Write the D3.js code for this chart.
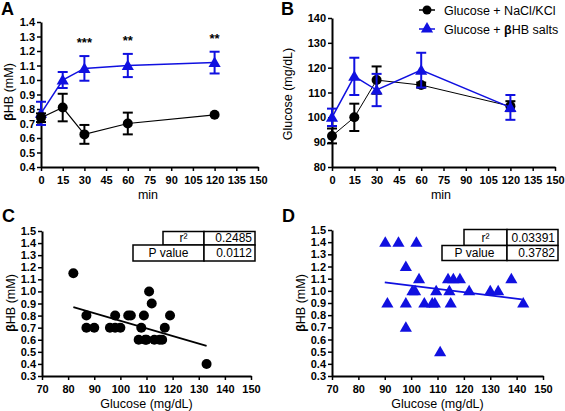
<!DOCTYPE html>
<html><head><meta charset="utf-8">
<script src="https://cdn.jsdelivr.net/npm/d3@7"></script>
<style>body{margin:0;background:#fff}svg{display:block;font-family:"Liberation Sans",Arial,sans-serif}</style>
</head><body><svg id="c" width="565" height="411"></svg>
<script>
// ---- data ----
const times = [0, 15, 30, 60, 120];
const timeTicks = [0,15,30,45,60,75,90,105,120,135,150];
const seriesNames = ["Glucose + NaCl/KCl", "Glucose + βHB salts"];
// Panel A: βHB (mM)
const bhbCtrl = [0.74, 0.81, 0.625, 0.70, 0.76];
const bhbCtrlErr = [0.03, 0.095, 0.065, 0.075, 0.0];
const bhbSalt = [0.77, 1.0, 1.08, 1.10, 1.12];
const bhbSaltErr = [0.08, 0.055, 0.085, 0.08, 0.075];
const sigLabels = ["", "", "***", "**", "**"];
const bhbTicks = [0.4,0.5,0.6,0.7,0.8,0.9,1.0,1.1,1.2,1.3,1.4];
// Panel B: Glucose (mg/dL)
const gluCtrl = [92.5, 100, 115, 113, 104.5];
const gluCtrlErr = [3, 5.5, 5.5, 1, 2];
const gluSalt = [100, 116.5, 111, 119, 104];
const gluSaltErr = [3.5, 7.5, 6.5, 7, 5];
const gluTicks = [80,90,100,110,120,130,140];
// Panel C: correlation, control
const cGlu = [82,87,87,90,96,98,98,100,103,104,108,109,107,109.5,110,111,112,113,115,116,117,119,133];
const cBhb = [1.15,0.8,0.7,0.7,0.7,0.8,0.7,0.7,0.8,0.8,0.7,0.8,0.6,0.6,0.6,1.0,0.9,0.6,0.6,0.6,0.7,0.8,0.4];
const cFitX = [82, 133];
const cFitY = [0.87, 0.55];
const cStats = [["r²", "0.2485"], ["P value", "0.0112"]];
// Panel D: correlation, βHB salts
const dGlu = [90.2,95.2,102,98,103,114,116,118.5,138,100.5,101.5,109.5,114.5,122,130,133,91,98,105,108,109,115,142.5,98,111];
const dBhb = [1.4,1.4,1.4,1.2,1.1,1.1,1.1,1.1,1.1,1.0,1.0,1.0,1.0,1.0,1.0,1.0,0.9,0.9,0.9,0.9,0.9,0.9,0.9,0.7,0.5];
const dFitX = [90, 142];
const dFitY = [1.07, 0.93];
const dStats = [["r²", "0.03391"], ["P value", "0.3782"]];
const corrXTicks = [70,80,90,100,110,120,130,140,150];
const corrYTicks = [0.3,0.4,0.5,0.6,0.7,0.8,0.9,1.0,1.1,1.2,1.3,1.4,1.5];

const BLUE = "#1010e0", BLACK = "#000";
const svg = d3.select("#c");
const tri = d3.symbol().type(d3.symbolTriangle).size(64);

function axes(g, x, y, xt, yt, xfmt, yfmt) {
  const xa = g.append("g").attr("transform", `translate(0,${y.range()[0]})`)
    .call(d3.axisBottom(x).tickValues(xt).tickSize(4).tickSizeOuter(0).tickFormat(xfmt));
  const ya = g.append("g").attr("transform", `translate(${x.range()[0]},0)`)
    .call(d3.axisLeft(y).tickValues(yt).tickSize(4).tickSizeOuter(0).tickFormat(yfmt));
  [xa, ya].forEach(a => {
    a.select(".domain").attr("stroke", "#000").attr("stroke-width", 2);
    a.selectAll(".tick line").attr("stroke", "#000").attr("stroke-width", 1.5);
    a.selectAll(".tick text").attr("fill", "#000").style("font-size", "11px")
      .style("font-weight", "bold").style("font-family", '"Liberation Sans",Arial,sans-serif');
  });
  xa.selectAll(".tick text").attr("dy", "0.9em");
  ya.selectAll(".tick text").attr("x", -6);
}
function label(txt, x, y, size, weight, anchor, rot) {
  const t = svg.append("text").attr("x", x).attr("y", y).attr("font-size", size)
    .attr("font-weight", weight || "normal").attr("text-anchor", anchor || "middle").text(txt);
  if (rot) t.attr("transform", `rotate(${rot},${x},${y})`);
  return t;
}
function timeSeries(g, x, y, vals, errs, color, isTri, lineW) {
  const line = d3.line().x((d, i) => x(times[i])).y(d => y(d));
  g.append("path").datum(vals).attr("d", line).attr("fill", "none").attr("stroke", color).attr("stroke-width", lineW);
  vals.forEach((v, i) => {
    if (errs[i] > 0) {
      const cx = x(times[i]), y1 = y(v + errs[i]), y2 = y(v - errs[i]);
      g.append("line").attr("x1", cx).attr("x2", cx).attr("y1", y1).attr("y2", y2).attr("stroke", color).attr("stroke-width", 2);
      [y1, y2].forEach(yy => g.append("line").attr("x1", cx - 5).attr("x2", cx + 5).attr("y1", yy).attr("y2", yy).attr("stroke", color).attr("stroke-width", 2));
    }
    if (isTri) g.append("path").attr("d", tri).attr("transform", `translate(${x(times[i])},${y(v) + 1})`).attr("fill", color);
    else g.append("circle").attr("cx", x(times[i])).attr("cy", y(v)).attr("r", 5).attr("fill", color);
  });
}
const f1 = d3.format(".1f"), f0 = d3.format("d");

// ---- Panel A ----
{
  const x = d3.scaleLinear().domain([0, 150]).range([41, 258]);
  const y = d3.scaleLinear().domain([0.4, 1.4]).range([167, 22]);
  const g = svg.append("g");
  axes(g, x, y, timeTicks, bhbTicks, f0, f1);
  timeSeries(g, x, y, bhbSalt, bhbSaltErr, BLUE, true, 1.5);
  timeSeries(g, x, y, bhbCtrl, bhbCtrlErr, BLACK, false, 1.2);
  times.forEach((t, i) => {
    if (sigLabels[i]) g.append("text").attr("x", x(t)).attr("y", y(bhbSalt[i] + bhbSaltErr[i]) - 9)
      .attr("text-anchor", "middle").attr("font-size", 13).attr("font-weight", "bold").text(sigLabels[i]);
  });
  label("A", 1, 15, 18, "bold", "start");
  label("min", 148, 199, 12.5);
  const yl = label("", 13, 92, 12.5, "normal", "middle", -90);
  yl.append("tspan").attr("font-weight", "bold").text("β");
  yl.append("tspan").text("HB (mM)");
}
// ---- Panel B ----
{
  const x = d3.scaleLinear().domain([0, 150]).range([332, 555]);
  const y = d3.scaleLinear().domain([80, 140]).range([167, 18]);
  const g = svg.append("g");
  axes(g, x, y, timeTicks, gluTicks, f0, f0);
  timeSeries(g, x, y, gluCtrl, gluCtrlErr, BLACK, false, 1);
  timeSeries(g, x, y, gluSalt, gluSaltErr, BLUE, true, 1.5);
  label("B", 281, 15, 18, "bold", "start");
  label("min", 441, 199, 12.5);
  label("Glucose (mg/dL)", 292, 94, 12.5, "normal", "middle", -90);
  // legend
  const lx = 427, ly = [10, 29];
  g.append("line").attr("x1", lx - 8).attr("x2", lx + 8).attr("y1", ly[0]).attr("y2", ly[0]).attr("stroke", BLACK).attr("stroke-width", 1.5);
  g.append("circle").attr("cx", lx).attr("cy", ly[0]).attr("r", 4.5).attr("fill", BLACK);
  g.append("line").attr("x1", lx - 8).attr("x2", lx + 8).attr("y1", ly[1]).attr("y2", ly[1]).attr("stroke", BLUE).attr("stroke-width", 1.5);
  g.append("path").attr("d", tri).attr("transform", `translate(${lx},${ly[1]})`).attr("fill", BLUE);
  label(seriesNames[0], 444, ly[0] + 4.5, 12.5, "normal", "start");
  const t2 = label("Glucose + ", 444, ly[1] + 4.5, 12.5, "normal", "start");
  t2.append("tspan").attr("font-weight", "bold").text("β");
  t2.append("tspan").text("HB salts");
}
// ---- correlation panels ----
function corr(xr, yr, gx, gy, fx, fy, stats, isTri, color, table, letter, lx) {
  const x = d3.scaleLinear().domain([70, 150]).range(xr);
  const y = d3.scaleLinear().domain([0.3, 1.5]).range(yr);
  const g = svg.append("g");
  axes(g, x, y, corrXTicks, corrYTicks, f0, f1);
  g.append("path").datum(fx.map((v, i) => [v, fy[i]]))
    .attr("d", d3.line().x(d => x(d[0])).y(d => y(d[1])))
    .attr("stroke", color).attr("stroke-width", 1.8).attr("fill", "none");
  gx.forEach((v, i) => {
    if (isTri) g.append("path").attr("d", tri).attr("transform", `translate(${x(v)},${y(gy[i]) + 1})`).attr("fill", color);
    else g.append("circle").attr("cx", x(v)).attr("cy", y(gy[i])).attr("r", 5).attr("fill", color);
  });
  // stats table
  const [r1x, r2x, divx, rx, ty, rh1, rh2] = table;
  const tg = g.append("g");
  const box = (x0, x1, y0, y1) => tg.append("rect").attr("x", x0).attr("y", y0).attr("width", x1 - x0).attr("height", y1 - y0)
    .attr("fill", "#fff").attr("stroke", "#000").attr("stroke-width", 1.5);
  box(r1x, divx, ty, ty + rh1); box(divx, rx, ty, ty + rh1);
  box(r2x, divx, ty + rh1, ty + rh1 + rh2); box(divx, rx, ty + rh1, ty + rh1 + rh2);
  label(stats[0][0], (r1x + divx) / 2, ty + rh1 - 3.5, 12);
  label(stats[0][1], rx - 3, ty + rh1 - 3.5, 12, "normal", "end");
  label(stats[1][0], (r2x + divx) / 2, ty + rh1 + rh2 - 4, 12);
  label(stats[1][1], rx - 3, ty + rh1 + rh2 - 4, 12, "normal", "end");
  label(letter, lx, 222, 18, "bold", "start");
  label("Glucose (mg/dL)", (xr[0] + xr[1]) / 2, 408, 12.5);
  const yl = label("", xr[0] - 27, 303, 12.5, "normal", "middle", -90);
  yl.append("tspan").attr("font-weight", "bold").text("β");
  yl.append("tspan").text("HB (mM)");
}
corr([42, 251], [376, 231], cGlu, cBhb, cFitX, cFitY, cStats, false, BLACK, [163, 133, 204, 255, 231.5, 13.5, 16], "C", 2);
corr([332, 543], [376, 230], dGlu, dBhb, dFitX, dFitY, dStats, true, BLUE, [464, 442, 507, 558, 229.5, 16, 15], "D", 282);
</script></body></html>
